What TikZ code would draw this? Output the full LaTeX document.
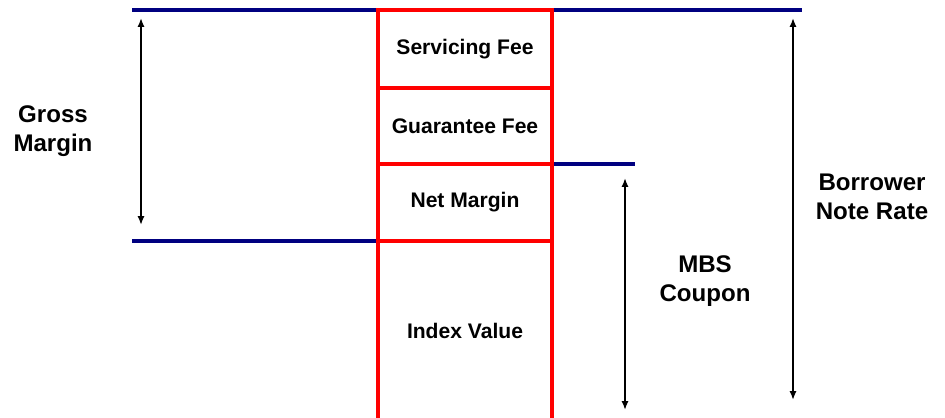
\documentclass[tikz,border=0pt]{standalone}
\usepackage{fontspec}
\setmainfont{Liberation Sans}
\usetikzlibrary{arrows.meta}

\definecolor{navyline}{RGB}{0,0,128}
\tikzset{
    part/.style={draw=red, line width=1.9pt, minimum width=3.48cm, inner sep=0pt,
        font=\fontsize{12}{14}\selectfont\bfseries},
    side/.style={align=center, font=\fontsize{13.7}{16.5}\selectfont\bfseries},
    level/.style={draw=navyline, line width=1.8pt},
    span/.style={{Latex[length=5pt,width=4pt]}-{Latex[length=5pt,width=4pt]}, line width=1.3pt}
}

\begin{document}
\begin{tikzpicture}[x=0.02cm, y=-0.02cm]
        \useasboundingbox (0,0) rectangle (945,418);
        \clip (0,0) rectangle (945,418);

        % reference levels
        \coordinate (topleft) at (132,10);
        \coordinate (topright) at (802,10);
        \coordinate (couponleft) at (552,164);
        \coordinate (couponright) at (635,164);
        \coordinate (indexleft) at (132,241);
        \coordinate (indexright) at (378,241);

        \draw[level] (topleft) -- (topright);
        \draw[level] (couponleft) -- (couponright);
        \draw[level] (indexleft) -- (indexright);

        % stacked rate
        \node[part, minimum height=1.56cm] (servicing) at (465,49) {Servicing Fee};
        \node[part, minimum height=1.52cm] (guarantee) at (465,126) {Guarantee Fee};
        \node[part, minimum height=1.54cm] (netmargin) at (465,202.5) {Net Margin};
        \node[part, minimum height=3.6cm] (index) at (465,331) {Index Value};

        % labels
        \node[side] (gross) at (53,131) {Gross\\Margin};
        \node[side] (mbs) at (705,281) {MBS\\Coupon};
        \node[side] (borrower) at (872,197) {Borrower\\Note Rate};

        \coordinate (grosstop) at (141,18);
        \coordinate (grossbottom) at (141,225);
        \coordinate (mbstop) at (625,178);
        \coordinate (mbsbottom) at (625,410);
        \coordinate (notetop) at (793,18);
        \coordinate (notebottom) at (793,400);

        \draw[span] (grosstop) -- (grossbottom);
        \draw[span] (mbstop) -- (mbsbottom);
        \draw[span] (notetop) -- (notebottom);
    \end{tikzpicture}
\end{document}
